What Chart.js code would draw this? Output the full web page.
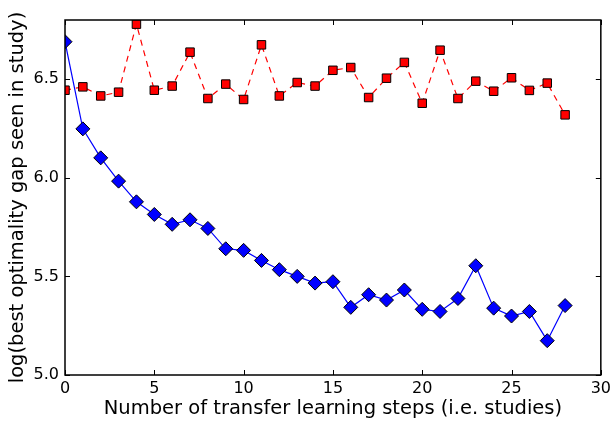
<!DOCTYPE html>
<html>
<head>
<meta charset="utf-8">
<script src="https://cdn.jsdelivr.net/npm/chart.js@4"></script>
<style>
  html, body { margin: 0; padding: 0; background: #fff; }
  #wrap { width: 615px; height: 425px; }
</style>
</head>
<body>
<div id="wrap"><canvas id="gapChart" width="615" height="425"></canvas></div>
<script>
// steps 0..28
const steps = [0,1,2,3,4,5,6,7,8,9,10,11,12,13,14,15,16,17,18,19,20,21,22,23,24,25,26,27,28];
// red dashed squares
const redGap = [6.444,6.461,6.415,6.434,6.779,6.444,6.465,6.637,6.402,6.475,6.397,6.674,6.415,6.483,6.465,
                6.545,6.559,6.407,6.505,6.585,6.378,6.647,6.402,6.490,6.439,6.507,6.443,6.480,6.319];
// blue solid diamonds
const blueGap = [6.690,6.248,6.101,5.983,5.878,5.814,5.764,5.787,5.743,5.640,5.632,5.581,5.534,5.500,5.466,
                 5.473,5.343,5.407,5.380,5.431,5.333,5.322,5.388,5.554,5.339,5.299,5.322,5.174,5.352];
const xTicks = [0,5,10,15,20,25,30];
const yTicks = [5.0,5.5,6.0,6.5];

const FONT = 'DejaVu Sans';

// matplotlib-style frame with inward ticks on all four sides
const frameTicks = {
    id: 'frameTicks',
    afterDraw(chart) {
        const {ctx, chartArea: a, scales: {x, y}} = chart;
        ctx.save();
        ctx.strokeStyle = '#000';
        ctx.lineWidth = 1;
        ctx.beginPath();
        xTicks.forEach(v => {
            const px = Math.round(x.getPixelForValue(v)) + 0.5;
            ctx.moveTo(px, a.bottom); ctx.lineTo(px, a.bottom - 5);
            ctx.moveTo(px, a.top); ctx.lineTo(px, a.top + 5);
        });
        yTicks.forEach(v => {
            const py = Math.round(y.getPixelForValue(v)) + 0.5;
            ctx.moveTo(a.left, py); ctx.lineTo(a.left + 5, py);
            ctx.moveTo(a.right, py); ctx.lineTo(a.right - 5, py);
        });
        ctx.stroke();
        ctx.lineWidth = 1.5;
        ctx.strokeRect(a.left, a.top, a.right - a.left, a.bottom - a.top);
        ctx.restore();
    }
};

new Chart(document.getElementById('gapChart').getContext('2d'), {
    type: 'line',
    data: {
        datasets: [
            { label: 'blue', data: steps.map((s, i) => ({x: s, y: blueGap[i]})),
              borderColor: '#0000ff', borderWidth: 1.2, tension: 0,
              pointStyle: 'rectRot', pointRadius: 7, pointBackgroundColor: '#0000ff',
              pointBorderColor: '#000', pointBorderWidth: 1 },
            { label: 'red', data: steps.map((s, i) => ({x: s, y: redGap[i]})),
              borderColor: '#ff0000', borderWidth: 1.2, borderDash: [6, 5], tension: 0,
              pointStyle: 'rect', pointRadius: 6, pointBackgroundColor: '#ff0000',
              pointBorderColor: '#000', pointBorderWidth: 1 }
        ]
    },
    options: {
        responsive: false, animation: false,
        layout: { padding: { top: 20, right: 12, left: 0, bottom: 0 } },
        plugins: { legend: { display: false }, tooltip: { enabled: false } },
        scales: {
            x: {
                type: 'linear', min: 0, max: 30,
                afterBuildTicks: s => { s.ticks = xTicks.map(v => ({value: v})); },
                afterFit: s => { s.height = 50; },
                grid: { display: false, drawTicks: false },
                border: { display: false },
                ticks: { color: '#000', font: { family: FONT, size: 16 }, padding: 4, maxRotation: 0 },
                title: { display: true, text: 'Number of transfer learning steps (i.e. studies)',
                         color: '#000', font: { family: FONT, size: 19.5 }, padding: { top: 0 } }
            },
            y: {
                min: 5.0, max: 6.8,
                afterBuildTicks: s => { s.ticks = yTicks.map(v => ({value: v})); },
                afterFit: s => { s.width = 65; },
                grid: { display: false, drawTicks: false },
                border: { display: false },
                ticks: { color: '#000', font: { family: FONT, size: 16 }, padding: 6,
                         callback: v => Number(v).toFixed(1) },
                title: { display: true, text: 'log(best optimality gap seen in study)',
                         color: '#000', font: { family: FONT, size: 19.5 }, padding: { top: 6, bottom: 0 } }
            }
        }
    },
    plugins: [frameTicks]
});
</script>
</body>
</html>
